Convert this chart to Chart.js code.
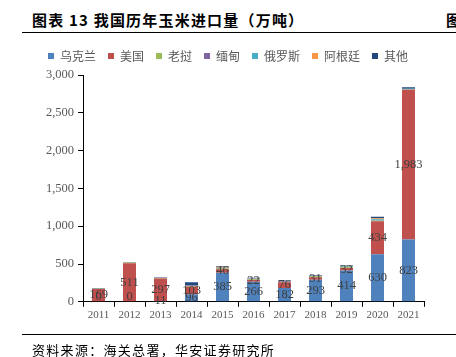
<!DOCTYPE html>
<html><head><meta charset="utf-8">
<script src="https://cdn.jsdelivr.net/npm/chart.js@4"></script>
<style>
html,body{margin:0;padding:0;background:#fff;width:456px;height:357px;overflow:hidden;position:relative}
#title{position:absolute;left:32px;top:9px;font:bold 15px "Noto Sans CJK SC",sans-serif;color:#000;letter-spacing:1.2px;white-space:nowrap}
#title2{position:absolute;left:446px;top:9px;font:bold 15px "Noto Sans CJK SC",sans-serif;color:#000}
#l1{position:absolute;left:22px;top:32px;width:434px;height:1px;background:#000}
#l2{position:absolute;left:22px;top:334px;width:434px;height:1px;background:#000}
#src{position:absolute;left:32px;top:340px;font:13px "Noto Sans CJK SC",sans-serif;color:#000;letter-spacing:1.3px;white-space:nowrap}
canvas{position:absolute;left:0;top:0}
</style></head><body>
<div id="title">图表 13 我国历年玉米进口量（万吨）</div>
<div id="title2">图</div>
<div id="l1"></div>
<canvas id="c" width="456" height="357"></canvas>
<div id="l2"></div>
<div id="src">资料来源：海关总署，华安证券研究所</div>
<script>
const categories = ['2011','2012','2013','2014','2015','2016','2017','2018','2019','2020','2021'];
const seriesNames = ['乌克兰','美国','老挝','缅甸','俄罗斯','阿根廷','其他'];
const ukraine   = [0, 0, 11, 96, 385, 266, 182, 293, 414, 630, 823];
const usa       = [169, 511, 297, 103, 46, 22, 76, 31, 32, 434, 1983];
const laos      = [3, 8, 8, 10, 12, 10, 5, 15, 10, 8, 3];
const myanmar   = [0, 4, 4, 10, 6, 6, 4, 4, 5, 5, 3];
const russia    = [0, 0, 0, 2, 5, 4, 5, 5, 5, 14, 5];
const argentina = [0, 0, 0, 0, 8, 3, 0, 0, 4, 13, 2];
const others    = [6, 4, 5, 38, 11, 6, 11, 6, 10, 22, 18];
const colors = ['#4F81BD','#C0504D','#9BBB59','#8064A2','#4BACC6','#F79646','#1F497D'];
const seriesData = [ukraine, usa, laos, myanmar, russia, argentina, others];

const labelPlugin = {
  id: 'segLabels',
  beforeUpdate(chart) {
    const lg = chart.legend;
    if (lg && !lg._patched) {
      lg._patched = true;
      const origFit = lg.fit;
      lg.fit = function () { origFit.call(this); this.height += 3; };
    }
  },
  afterDatasetsDraw(chart) {
    const ctx = chart.ctx;
    ctx.save();
    ctx.font = '12.5px "Liberation Serif", serif';
    ctx.fillStyle = '#404040';
    ctx.textAlign = 'center';
    ctx.textBaseline = 'middle';
    [0,1].forEach(di => {
      const meta = chart.getDatasetMeta(di);
      meta.data.forEach((el, i) => {
        const p = el.getProps(['x','y','base'], true);
        const v = chart.data.datasets[di].data[i];
        let cy = (p.y + p.base) / 2;
        if (v === 0) cy = p.base - 5;
        ctx.fillText(v.toLocaleString('en-US'), p.x, cy);
      });
    });
    ctx.restore();
  }
};

new Chart(document.getElementById('c'), {
  type: 'bar',
  data: {
    labels: categories,
    datasets: seriesNames.map((n, k) => ({
      label: n,
      data: seriesData[k],
      backgroundColor: colors[k],
      borderWidth: 0,
      barPercentage: 0.42,
      categoryPercentage: 1
    }))
  },
  options: {
    responsive: false,
    animation: false,
    layout: { padding: { left: 32, right: 32, top: 38, bottom: 33 } },
    plugins: {
      legend: {
        position: 'top',
        labels: {
          boxWidth: 6, boxHeight: 6, padding: 12,
          color: '#595959',
          font: { size: 12, family: '"Noto Sans CJK SC", sans-serif' }
        }
      },
      tooltip: { enabled: false }
    },
    scales: {
      x: {
        stacked: true,
        offset: true,
        grid: { display: true, drawOnChartArea: false, offset: true, color: '#000', tickLength: 5, tickWidth: 1 },
        border: { display: true, color: '#000', width: 1 },
        ticks: { color: '#595959', font: { size: 11, family: '"Liberation Serif", serif' }, padding: 2, maxRotation: 0 }
      },
      y: {
        stacked: true,
        min: 0, max: 3000,
        afterFit: s => { s.width = 51; },
        grid: { display: true, drawOnChartArea: false, color: '#000', tickLength: 5 },
        border: { display: true, color: '#000', width: 1 },
        ticks: { stepSize: 500, color: '#595959', font: { size: 12.5, family: '"Liberation Serif", serif' }, padding: 4,
          callback: v => v.toLocaleString('en-US') }
      }
    }
  },
  plugins: [labelPlugin]
});
</script>
</body></html>
